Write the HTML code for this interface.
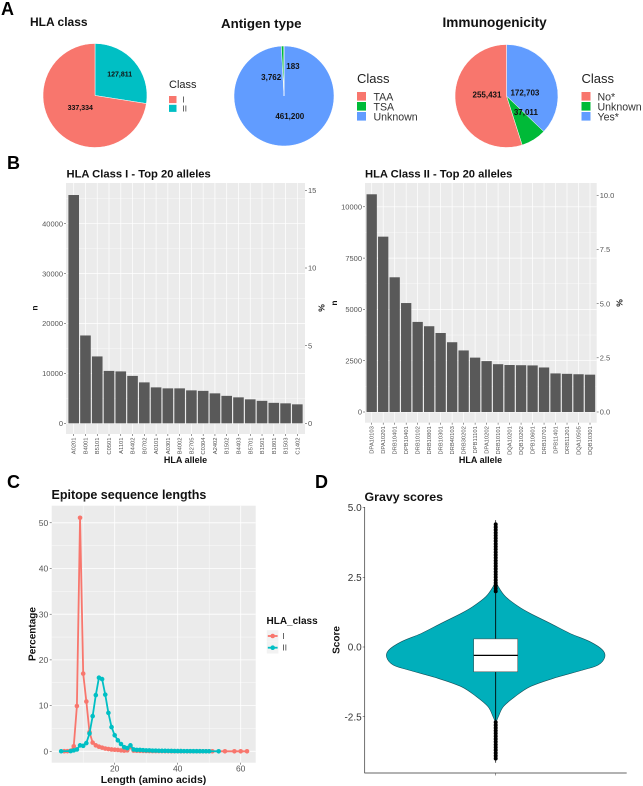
<!DOCTYPE html>
<html>
<head>
<meta charset="utf-8">
<title>HLA epitope summary figure</title>
<style>
html,body{margin:0;padding:0;background:#fff;}
svg{display:block;font-family:"Liberation Sans",sans-serif;}
.panel-letter{font-size:18px;font-weight:bold;fill:#000;}
.bold{font-weight:bold;fill:#111;}
</style>
</head>
<body>
<svg id="fig" xmlns="http://www.w3.org/2000/svg" width="643" height="786" viewBox="0 0 643 786">
<rect width="643" height="786" fill="#fff"/>
<text class="panel-letter" x="1" y="15">A</text>
<text class="panel-letter" x="7" y="169">B</text>
<text class="panel-letter" x="7" y="488">C</text>
<text class="panel-letter" x="315" y="488">D</text>
<text class="bold" x="30" y="26" font-size="12">HLA class</text>
<text class="bold" x="221" y="28" font-size="13.3">Antigen type</text>
<text class="bold" x="442.500" y="27" font-size="13.6">Immunogenicity</text>
<text class="bold" x="66.500" y="177.500" font-size="11.200">HLA Class I - Top 20 alleles</text>
<text class="bold" x="365" y="177.500" font-size="11.200">HLA Class II - Top 20 alleles</text>
<text class="bold" x="51.500" y="499" font-size="12.500">Epitope sequence lengths</text>
<text class="bold" x="364.500" y="501" font-size="12.400">Gravy scores</text>
<text class="bold" x="185.500" y="463" font-size="9" text-anchor="middle">HLA allele</text>
<text class="bold" x="480.500" y="463" font-size="9" text-anchor="middle">HLA allele</text>
<text class="bold" font-size="8.500" text-anchor="middle" transform="translate(37.500 308) rotate(-90)">n</text>
<text class="bold" font-size="8.500" text-anchor="middle" transform="translate(324.500 308) rotate(-90)">%</text>
<text class="bold" font-size="8.500" text-anchor="middle" transform="translate(337 303) rotate(-90)">n</text>
<text class="bold" font-size="8.500" text-anchor="middle" transform="translate(622.500 303) rotate(-90)">%</text>
<text class="bold" x="153.500" y="783" font-size="10.500" text-anchor="middle">Length (amino acids)</text>
<text class="bold" font-size="10" text-anchor="middle" transform="translate(35.500 634) rotate(-90)">Percentage</text>
<text class="bold" font-size="10" text-anchor="middle" transform="translate(339.500 640) rotate(-90)">Score</text>
</svg>
<script>
// ---- chart data ----
const hlaClassNames = ['II', 'I'];
const hlaClassValues = [127811, 337334];
const antigenNames = ['Unknown', 'TSA', 'TAA'];
const antigenValues = [461200, 3762, 183];
const immunoNames = ['Yes*', 'Unknown', 'No*'];
const immunoValues = [172703, 37011, 255431];

const classOneAlleles = ['A0201','B4001','B5101','C0501','A1101','B4402','B0702','A0101','A0301','B4002','B2705','C0304','A2402','B1502','B4403','B5701','B1501','B1801','B1503','C1402'];
const classOneCounts = [45750,17600,13400,10500,10400,9500,8200,7200,7000,7000,6600,6500,6000,5500,5200,4800,4500,4100,4000,3800];
const classOneCountTicks = [0,10000,20000,30000,40000];
const classOnePercentTicks = [0,5,10,15];
const classTwoAlleles = ['DPA10103','DPA10201','DRB10401','DPB10401','DRB10102','DRB10801','DRB10301','DRB40103','DRB30202','DPB11101','DPA10202','DRB10101','DQA10201','DQB10202','DPB10601','DRB10701','DPB11401','DRB11201','DQA10505','DQB10301'];
const classTwoCounts = [10610,8545,6565,5310,4390,4180,3850,3400,3000,2650,2480,2330,2290,2280,2270,2170,1880,1860,1840,1820];
const classTwoCountTicks = [0,2500,5000,7500,10000];
const classTwoPercentTicks = ['0.0','2.5','5.0','7.5','10.0'];

const lengthTicksX = [20,40,60];
const lengthTicksY = [0,10,20,30,40,50];
const classOneLengths = [4,5,6,7,8,9,10,11,12,13,14,15,16,17,18,19,20,21,22,23,24,25,26,27,28,29,30,31,32,33,34,35,36,37,38,39,40,41,42,43,44,45,46,47,48,49,50,51,55,58,60,62];
const classOnePercent = [0.02,0.03,0.1,1.1,9.9,51.1,17,10.9,4.2,1.9,1.3,1,0.8,0.6,0.5,0.4,0.35,0.3,0.2,0.15,0.2,0.9,0.15,0.12,0.1,0.08,0.07,0.06,0.05,0.05,0.04,0.04,0.03,0.03,0.02,0.02,0.02,0.02,0.01,0.01,0.01,0.01,0.01,0.01,0.01,0.01,0.01,0.01,0,0,0,0];
const classTwoLengths = [3,6,7,8,9,10,11,12,13,14,15,16,17,18,19,20,21,22,23,24,25,26,27,28,29,30,31,32,33,34,35,36,37,38,39,40,41,42,43,44,45,46,47,48,49,50,53];
const classTwoPercent = [0.01,0.05,0.2,0.4,1.3,1.2,1.8,3.9,7.7,12.3,16.1,15.8,12.4,8.4,5.3,3.5,2.4,1.6,0.9,0.7,1.3,0.4,0.3,0.3,0.25,0.2,0.2,0.15,0.15,0.12,0.1,0.1,0.08,0.07,0.06,0.05,0.05,0.04,0.03,0.03,0.02,0.02,0.02,0.01,0.01,0.01,0];

const gravyTicks = ['-2.5','0.0','2.5','5.0'];
const violinScores = [2.40,2.165,1.806,1.447,1.208,0.849,0.49,0.19,-0.108,-0.37,-0.646,-0.825,-1.124,-1.423,-1.78,-2.14,-2.5,-2.68];
const violinDensity = [0,0.024,0.09,0.21,0.315,0.50,0.68,0.865,0.98,1,0.94,0.80,0.53,0.315,0.177,0.07,0.024,0];
const boxQ1 = -0.89;
const boxMedian = -0.30;
const boxQ3 = 0.29;
const whiskerHigh = 2.0;
const whiskerLow = -2.7;
const outlierScores = [2.0,2.1,2.2,2.3,2.4,2.5,2.6,2.7,2.8,2.9,3.0,3.1,3.2,3.3,3.4,3.5,3.6,3.7,3.8,3.9,4.0,4.1,4.2,4.3,4.4,-2.7,-2.8,-2.9,-3.0,-3.1,-3.2,-3.3,-3.4,-3.5,-3.6,-3.7,-3.8,-3.9,-4.0];
const extremeHigh = 4.55;
const extremeLow = -4.15;

// ---- drawing helpers ----
const NS = 'http://www.w3.org/2000/svg';
const fig = document.getElementById('fig');
function mk(tag, attrs, parent) {
  const el = document.createElementNS(NS, tag);
  for (const k in attrs) el.setAttribute(k, attrs[k]);
  (parent || fig).appendChild(el);
  return el;
}
function gridLine(x1, y1, x2, y2, w) {
  const el = mk('line', {x1, y1, x2, y2, stroke: '#fff', 'stroke-width': w});
  
  
}
function tickMark(x1, y1, x2, y2) {
  const el = mk('line', {x1, y1, x2, y2, stroke: '#333', 'stroke-width': 0.5});
  
  
}
function tickText(str, x, y, size, anchor, fill) {
  const el = mk('text', {x, y, 'font-size': size, 'text-anchor': anchor, fill: fill || '#555'});
  el.textContent = str;
  
  
  return el;
}

// ---- pies ----
function drawPie(cx, cy, r, names, values, colors, nudges, fontSize) {
  const total = values.reduce((a, b) => a + b, 0);
  let acc = 0;
  const mids = [];
  values.forEach((v, i) => {
    const a0 = acc / total * 2 * Math.PI;
    acc += v;
    const a1 = acc / total * 2 * Math.PI;
    mids.push((a0 + a1) / 2);
    const large = a1 - a0 > Math.PI ? 1 : 0;
    const d = 'M' + cx + ' ' + cy + 'L' + (cx + r * Math.sin(a0)) + ' ' + (cy - r * Math.cos(a0)) +
      'A' + r + ' ' + r + ' 0 ' + large + ' 1 ' + (cx + r * Math.sin(a1)) + ' ' + (cy - r * Math.cos(a1)) + 'Z';
    const s = mk('path', {d, fill: colors[i], stroke: '#fff', 'stroke-width': 0.5});
    
    
  });
  values.forEach((v, i) => {
    const rl = r * 0.6;
    const x = cx + rl * Math.sin(mids[i]) + nudges[i][0];
    const y = cy - rl * Math.cos(mids[i]) + nudges[i][1];
    const t = mk('text', {x, y, dy: '0.35em', 'font-size': fontSize, 'font-weight': 'bold', 'text-anchor': 'middle', fill: '#111'});
    t.textContent = v.toLocaleString('en-US');
    
    
  });
}
function drawLegend(x, titleY, titleSize, keyY, keySize, step, textX, textSize, labels, colors) {
  const t = mk('text', {x, y: titleY, 'font-size': titleSize, fill: '#222'});
  t.textContent = 'Class';
  
  
  labels.forEach((lab, i) => {
    const k = mk('rect', {x, y: keyY + i * step, width: keySize, height: keySize - 0.4, fill: colors[i]});
    
    
    const e = mk('text', {x: textX, y: keyY + i * step + keySize / 2, dy: '0.36em', 'font-size': textSize, fill: '#333'});
    e.textContent = lab;
    
    
  });
}
const RED = '#F8766D', TEAL = '#00BFC4', GREEN = '#00BA38', BLUE = '#619CFF';
drawPie(95, 95.5, 52, hlaClassNames, hlaClassValues, [TEAL, RED], [[1,-1],[9,-8]], 7);
drawPie(284, 96, 50, antigenNames, antigenValues, [BLUE, GREEN, RED], [[5,-10],[-12,11],[9,0]], 8);
drawPie(506.5, 96, 51.5, immunoNames, immunoValues, [BLUE, GREEN, RED], [[-10,9],[3,-10],[11,-6]], 8);
drawLegend(169, 88, 11, 96, 7.5, 8.8, 182.5, 8, ['I','II'], [RED, TEAL]);
drawLegend(357, 83, 13, 92, 9, 10, 373.5, 10.6, ['TAA','TSA','Unknown'], [RED, GREEN, BLUE]);
drawLegend(581.5, 83, 13, 92, 9, 10, 597.5, 10.6, ['No*','Unknown','Yes*'], [RED, GREEN, BLUE]);

// ---- bar charts ----
function drawBars(o) {
  const y = v => o.zeroY - v * o.pxPerCount;
  const y2 = v => o.zeroY - v * o.pxPerPercent;
  const x = i => o.firstX + i * o.stepX;
  const bg = mk('rect', {x: o.left, y: o.top, width: o.right - o.left, height: o.bottom - o.top, fill: '#EBEBEB'});
  
  
  const tickGap = o.countTicks[1] - o.countTicks[0];
  for (let v = tickGap / 2; y(v) > o.top; v += tickGap) gridLine(o.left, y(v), o.right, y(v), 0.35);
  o.countTicks.forEach(v => gridLine(o.left, y(v), o.right, y(v), 0.7));
  o.alleles.forEach((a, i) => gridLine(x(i), o.top, x(i), o.bottom, 0.7));
  o.counts.forEach((c, i) => {
    const b = mk('rect', {x: x(i) - o.barW / 2, y: y(c), width: o.barW, height: o.zeroY - y(c), fill: '#595959'});
    
    
  });
  o.countTicks.forEach(v => {
    tickMark(o.left - 2, y(v), o.left, y(v));
    tickText(String(v), o.left - 3, y(v), 7.5, 'end').setAttribute('dy', '0.36em');
  });
  o.percentTicks.forEach(v => {
    tickMark(o.right, y2(+v), o.right + 2, y2(+v));
    tickText(String(v), o.right + 3, y2(+v), 7.5, 'start').setAttribute('dy', '0.36em');
  });
  o.alleles.forEach((a, i) => {
    tickMark(x(i), o.bottom, x(i), o.bottom + 2);
    const t = tickText(a, 0, 0, 5.8, 'end');
    t.setAttribute('transform', 'translate(' + (x(i) + 2) + ' ' + (o.bottom + 3.5) + ') rotate(-90)');
  });
}
drawBars({left: 66, right: 305, top: 183, bottom: 434, zeroY: 423.3, pxPerCount: 0.00499, pxPerPercent: 15.53,
  firstX: 73.7, stepX: 11.77, barW: 10.6, alleles: classOneAlleles, counts: classOneCounts,
  countTicks: classOneCountTicks, percentTicks: classOnePercentTicks});
drawBars({left: 365, right: 596.7, top: 183, bottom: 422.7, zeroY: 412, pxPerCount: 0.02052, pxPerPercent: 21.67,
  firstX: 371.7, stepX: 11.49, barW: 10.3, alleles: classTwoAlleles, counts: classTwoCounts,
  countTicks: classTwoCountTicks, percentTicks: classTwoPercentTicks});

// ---- line chart ----
(function () {
  const left = 51.7, right = 255.7, top = 505.7, bottom = 762.7;
  const x = v => 114.7 + (v - 20) * 3.15;
  const y = v => 751.3 - v * 4.57;
  const bg = mk('rect', {x: left, y: top, width: right - left, height: bottom - top, fill: '#EBEBEB'});
  
  
  lengthTicksY.forEach(v => gridLine(left, y(v + 5), right, y(v + 5), 0.4));
  [10, 30, 50].forEach(v => gridLine(x(v), top, x(v), bottom, 0.4));
  lengthTicksY.forEach(v => {
    gridLine(left, y(v), right, y(v), 0.8);
    tickMark(left - 2, y(v), left, y(v));
    tickText(String(v), left - 3.5, y(v), 8.5, 'end').setAttribute('dy', '0.36em');
  });
  lengthTicksX.forEach(v => {
    gridLine(x(v), top, x(v), bottom, 0.8);
    tickMark(x(v), bottom, x(v), bottom + 2);
    tickText(String(v), x(v), 771.7, 8.5, 'middle');
  });
  function series(name, xs, ys, color) {
    const line = mk('polyline', {points: xs.map((v, i) => x(v) + ',' + y(ys[i])).join(' '), fill: 'none', stroke: color, 'stroke-width': 1.8, 'stroke-linejoin': 'round'});
    
    
    xs.forEach((v, i) => {
      const p = mk('circle', {cx: x(v), cy: y(ys[i]), r: 2.3, fill: color});
      
      
    });
  }
  series('class-i', classOneLengths, classOnePercent, RED);
  series('class-ii', classTwoLengths, classTwoPercent, TEAL);
  const lt = mk('text', {x: 266.5, y: 624, 'font-size': 10, 'font-weight': 'bold', fill: '#111'});
  lt.textContent = 'HLA_class';
  
  
  ['I', 'II'].forEach((lab, i) => {
    const cy = 636 + i * 11.7;
    const c = i ? TEAL : RED;
    const k = mk('rect', {x: 266.8, y: cy - 5.8, width: 11.6, height: 11.6, fill: '#F2F2F2'});
    
    
    const l = mk('line', {x1: 267.8, x2: 277.6, y1: cy, y2: cy, stroke: c, 'stroke-width': 1.8});
    
    
    const d = mk('circle', {cx: 272.7, cy, r: 2.3, fill: c});
    
    
    const t = mk('text', {x: 282.5, y: cy, dy: '0.36em', 'font-size': 8, fill: '#333'});
    t.textContent = lab;
    
    
  });
})();

// ---- violin ----
(function () {
  const cx = 495.7, maxHalf = 109;
  const y = v => 647 - v * 27.88;
  const w = d => d * maxHalf;
  const right = violinScores.map((s, i) => [cx + w(violinDensity[i]), y(s)]);
  const left = violinScores.map((s, i) => [cx - w(violinDensity[i]), y(s)]).reverse();
  const pts = right.concat(left.slice(1));
  let d = 'M' + pts[0][0] + ' ' + pts[0][1];
  for (let i = 0; i < pts.length - 1; i++) {
    const p0 = pts[Math.max(i - 1, 0)], p1 = pts[i], p2 = pts[i + 1], p3 = pts[Math.min(i + 2, pts.length - 1)];
    d += 'C' + (p1[0] + (p2[0] - p0[0]) / 6) + ' ' + (p1[1] + (p2[1] - p0[1]) / 6) + ' ' +
      (p2[0] - (p3[0] - p1[0]) / 6) + ' ' + (p2[1] - (p3[1] - p1[1]) / 6) + ' ' + p2[0] + ' ' + p2[1];
  }
  d += 'Z';
  const v = mk('path', {d, fill: '#00AFBB', stroke: '#14505a', 'stroke-width': 0.6});
  
  
  const ext = mk('line', {x1: cx, x2: cx, y1: y(extremeHigh), y2: y(extremeLow), stroke: '#000', 'stroke-width': 0.7});
  
  
  outlierScores.forEach(s => {
    const o = mk('circle', {cx, cy: y(s), r: 2, fill: '#000'});
    
    
  });
  const wh = mk('line', {x1: cx, x2: cx, y1: y(whiskerHigh), y2: y(whiskerLow), stroke: '#000', 'stroke-width': 0.7});
  
  
  const box = mk('rect', {x: cx - 22, y: y(boxQ3), width: 44, height: y(boxQ1) - y(boxQ3), fill: '#fff', stroke: '#444', 'stroke-width': 0.5});
  
  
  const med = mk('line', {x1: cx - 22, x2: cx + 22, y1: y(boxMedian), y2: y(boxMedian), stroke: '#000', 'stroke-width': 1.2});
  
  
  const ya = mk('line', {x1: 364.7, x2: 364.7, y1: 507, y2: 773, stroke: '#333', 'stroke-width': 0.7});
  
  
  const xa = mk('line', {x1: 364.4, x2: 626.7, y1: 773, y2: 773, stroke: '#333', 'stroke-width': 0.7});
  
  
  tickMark(cx, 773, cx, 775.5);
  gravyTicks.forEach(t => {
    tickMark(362.7, y(+t), 364.7, y(+t));
    tickText(t, 361.7, y(+t), 10, 'end', '#333').setAttribute('dy', '0.36em');
  });
})();
</script>
</body>
</html>
